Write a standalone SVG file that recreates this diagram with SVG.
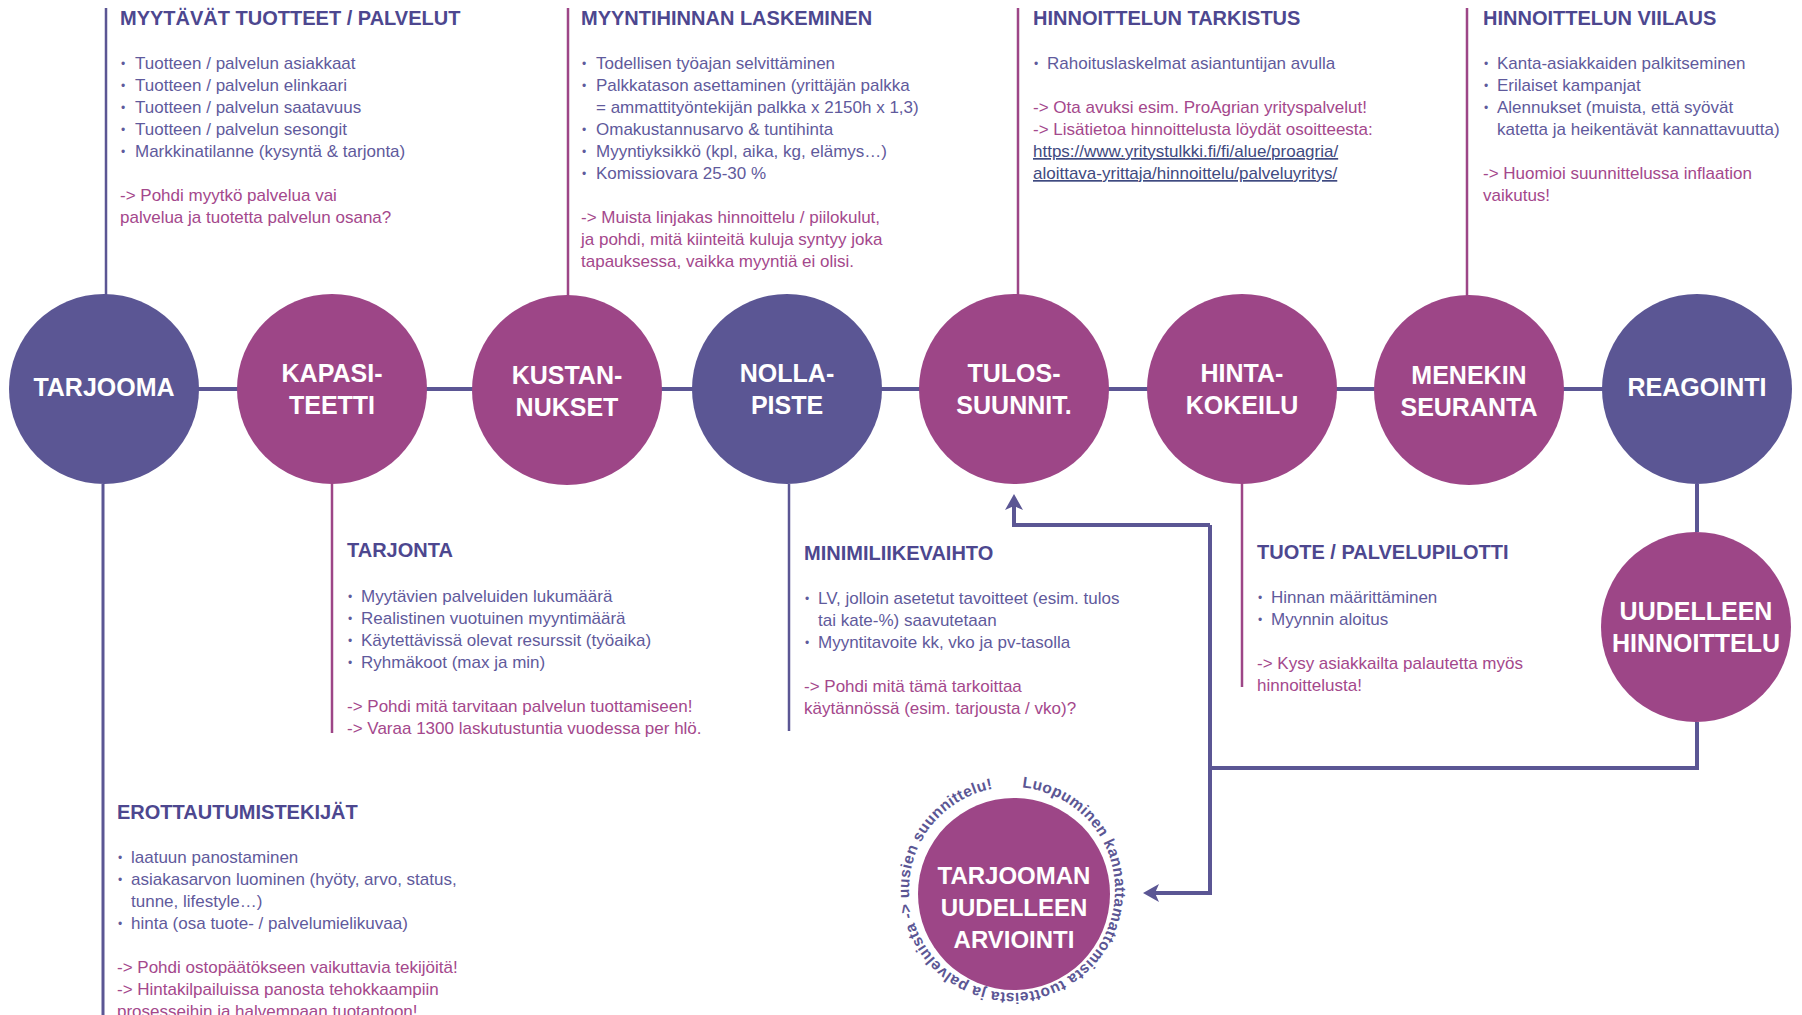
<svg xmlns="http://www.w3.org/2000/svg" width="1802" height="1015" viewBox="0 0 1802 1015">
  <defs>
    <style>
      .h { font: bold 20px 'Liberation Sans', Arial, sans-serif; fill: #4d478f; }
      .b { font: 17px 'Liberation Sans', Arial, sans-serif; fill: #5f5a9c; }
      .p { font: 17px 'Liberation Sans', Arial, sans-serif; fill: #a4488c; }
      .lk { font: 17px 'Liberation Sans', Arial, sans-serif; fill: #3f4a80; text-decoration: underline; }
      .dot { font: 12px 'Liberation Sans', Arial, sans-serif; fill: #5f5a9c; }
      .lbl { font: bold 25px 'Liberation Sans', Arial, sans-serif; fill: #ffffff; text-anchor: middle; }
      .lbl2 { font: bold 24px 'Liberation Sans', Arial, sans-serif; fill: #ffffff; text-anchor: middle; }
      .ring { font: bold 15.5px 'Liberation Sans', Arial, sans-serif; fill: #5b5694; }
      .blue { fill: #5b5694; }
      .mag { fill: #9d4687; }
      .tb { stroke: #5b5694; stroke-width: 2.5; fill: none; }
      .tm { stroke: #9d4687; stroke-width: 2.5; fill: none; }
      .flow { stroke: #5b5694; stroke-width: 4; fill: none; }
    </style>
    <marker id="ah" viewBox="0 0 16 18" refX="6" refY="9" markerWidth="16" markerHeight="18" markerUnits="userSpaceOnUse" orient="auto">
      <path d="M0,0 L16,9 L0,18 L4,9 z" fill="#5b5694"/>
    </marker>
    <path id="ringPath" d="M1012,787 A103,103 0 1,1 1012,993 A103,103 0 1,1 1012,787"/>
  </defs>

  <rect width="1802" height="1015" fill="#ffffff"/>

  <!-- connectors -->
  <g id="connectors">
    <path class="tb" d="M106,8 V295"/>
    <path class="tm" d="M568,8 V296"/>
    <path class="tm" d="M1018,8 V296"/>
    <path class="tm" d="M1467,8 V296"/>
    <path class="tb" d="M103,484 V1015" style="stroke-width:3"/>
    <path class="tm" d="M332,484 V733"/>
    <path class="tb" d="M789,484 V731"/>
    <path class="tm" d="M1242,484 V687"/>
    <path class="flow" d="M104,389 H1697"/>
    <path class="flow" d="M1697,484 V532"/>
    <path class="flow" d="M1697,722 V768 H1210"/>
    <path class="flow" d="M1210,525 V893 H1153" marker-end="url(#ah)"/>
    <path class="flow" d="M1210,525 H1014 V504" marker-end="url(#ah)"/>
  </g>

  <!-- process nodes -->
  <g id="n-tarjooma">
    <circle class="blue" cx="104" cy="389" r="95"/>
    <text class="lbl" x="104" y="396">TARJOOMA</text>
  </g>
  <g id="n-kapasiteetti">
    <circle class="mag" cx="332" cy="389" r="95"/>
    <text class="lbl" x="332" y="382">KAPASI-</text>
    <text class="lbl" x="332" y="414">TEETTI</text>
  </g>
  <g id="n-kustannukset">
    <circle class="mag" cx="567" cy="390" r="95"/>
    <text class="lbl" x="567" y="384">KUSTAN-</text>
    <text class="lbl" x="567" y="416">NUKSET</text>
  </g>
  <g id="n-nollapiste">
    <circle class="blue" cx="787" cy="389" r="95"/>
    <text class="lbl" x="787" y="382">NOLLA-</text>
    <text class="lbl" x="787" y="414">PISTE</text>
  </g>
  <g id="n-tulossuunnittelu">
    <circle class="mag" cx="1014" cy="389" r="95"/>
    <text class="lbl" x="1014" y="382">TULOS-</text>
    <text class="lbl" x="1014" y="414">SUUNNIT.</text>
  </g>
  <g id="n-hintakokeilu">
    <circle class="mag" cx="1242" cy="389" r="95"/>
    <text class="lbl" x="1242" y="382">HINTA-</text>
    <text class="lbl" x="1242" y="414">KOKEILU</text>
  </g>
  <g id="n-menekinseuranta">
    <circle class="mag" cx="1469" cy="390" r="95"/>
    <text class="lbl" x="1469" y="384">MENEKIN</text>
    <text class="lbl" x="1469" y="416">SEURANTA</text>
  </g>
  <g id="n-reagointi">
    <circle class="blue" cx="1697" cy="389" r="95"/>
    <text class="lbl" x="1697" y="396">REAGOINTI</text>
  </g>
  <g id="n-uudelleenhinnoittelu">
    <circle class="mag" cx="1696" cy="627" r="95"/>
    <text class="lbl" x="1696" y="620">UUDELLEEN</text>
    <text class="lbl" x="1696" y="652">HINNOITTELU</text>
  </g>
  <g id="n-tarjoomanarviointi">
    <circle class="mag" cx="1014" cy="894" r="96"/>
    <text class="lbl2" x="1014" y="884">TARJOOMAN</text>
    <text class="lbl2" x="1014" y="916">UUDELLEEN</text>
    <text class="lbl2" x="1014" y="948">ARVIOINTI</text>
    <text class="ring" textLength="617" lengthAdjust="spacing"><textPath href="#ringPath" startOffset="10">Luopuminen kannattamattomista tuotteista ja palveluista -&gt; uusien suunnittelu!</textPath></text>
  </g>

  <!-- note: products / services -->
  <g id="t-myytavat">
    <text class="h" x="120" y="25">MYYTÄVÄT TUOTTEET / PALVELUT</text>
    <text class="dot" x="121" y="67.5">•</text><text class="b" x="135" y="69">Tuotteen / palvelun asiakkaat</text>
    <text class="dot" x="121" y="89.5">•</text><text class="b" x="135" y="91">Tuotteen / palvelun elinkaari</text>
    <text class="dot" x="121" y="111.5">•</text><text class="b" x="135" y="113">Tuotteen / palvelun saatavuus</text>
    <text class="dot" x="121" y="133.5">•</text><text class="b" x="135" y="135">Tuotteen / palvelun sesongit</text>
    <text class="dot" x="121" y="155.5">•</text><text class="b" x="135" y="157">Markkinatilanne (kysyntä &amp; tarjonta)</text>
    <text class="p" x="120" y="201">-&gt; Pohdi myytkö palvelua vai</text>
    <text class="p" x="120" y="223">palvelua ja tuotetta palvelun osana?</text>
  </g>

  <!-- note: sales price -->
  <g id="t-myyntihinta">
    <text class="h" x="581" y="25">MYYNTIHINNAN LASKEMINEN</text>
    <text class="dot" x="582" y="67.5">•</text><text class="b" x="596" y="69">Todellisen työajan selvittäminen</text>
    <text class="dot" x="582" y="89.5">•</text><text class="b" x="596" y="91">Palkkatason asettaminen (yrittäjän palkka</text>
    <text class="b" x="596" y="113">= ammattityöntekijän palkka x 2150h x 1,3)</text>
    <text class="dot" x="582" y="133.5">•</text><text class="b" x="596" y="135">Omakustannusarvo &amp; tuntihinta</text>
    <text class="dot" x="582" y="155.5">•</text><text class="b" x="596" y="157">Myyntiyksikkö (kpl, aika, kg, elämys…)</text>
    <text class="dot" x="582" y="177.5">•</text><text class="b" x="596" y="179">Komissiovara 25-30 %</text>
    <text class="p" x="581" y="223">-&gt; Muista linjakas hinnoittelu / piilokulut,</text>
    <text class="p" x="581" y="245">ja pohdi, mitä kiinteitä kuluja syntyy joka</text>
    <text class="p" x="581" y="267">tapauksessa, vaikka myyntiä ei olisi.</text>
  </g>

  <!-- note: pricing check -->
  <g id="t-tarkistus">
    <text class="h" x="1033" y="25">HINNOITTELUN TARKISTUS</text>
    <text class="dot" x="1034" y="67.5">•</text><text class="b" x="1047" y="69">Rahoituslaskelmat asiantuntijan avulla</text>
    <text class="p" x="1033" y="113">-&gt; Ota avuksi esim. ProAgrian yrityspalvelut!</text>
    <text class="p" x="1033" y="135">-&gt; Lisätietoa hinnoittelusta löydät osoitteesta:</text>
    <text class="lk" x="1033" y="157">https://www.yritystulkki.fi/fi/alue/proagria/</text>
    <text class="lk" x="1033" y="179">aloittava-yrittaja/hinnoittelu/palveluyritys/</text>
  </g>

  <!-- note: fine tuning -->
  <g id="t-viilaus">
    <text class="h" x="1483" y="25">HINNOITTELUN VIILAUS</text>
    <text class="dot" x="1484" y="67.5">•</text><text class="b" x="1497" y="69">Kanta-asiakkaiden palkitseminen</text>
    <text class="dot" x="1484" y="89.5">•</text><text class="b" x="1497" y="91">Erilaiset kampanjat</text>
    <text class="dot" x="1484" y="111.5">•</text><text class="b" x="1497" y="113">Alennukset (muista, että syövät</text>
    <text class="b" x="1497" y="135">katetta ja heikentävät kannattavuutta)</text>
    <text class="p" x="1483" y="179">-&gt; Huomioi suunnittelussa inflaation</text>
    <text class="p" x="1483" y="201">vaikutus!</text>
  </g>

  <!-- note: supply -->
  <g id="t-tarjonta">
    <text class="h" x="347" y="557">TARJONTA</text>
    <text class="dot" x="348" y="600.5">•</text><text class="b" x="361" y="602">Myytävien palveluiden lukumäärä</text>
    <text class="dot" x="348" y="622.5">•</text><text class="b" x="361" y="624">Realistinen vuotuinen myyntimäärä</text>
    <text class="dot" x="348" y="644.5">•</text><text class="b" x="361" y="646">Käytettävissä olevat resurssit (työaika)</text>
    <text class="dot" x="348" y="666.5">•</text><text class="b" x="361" y="668">Ryhmäkoot (max ja min)</text>
    <text class="p" x="347" y="712">-&gt; Pohdi mitä tarvitaan palvelun tuottamiseen!</text>
    <text class="p" x="347" y="734">-&gt; Varaa 1300 laskutustuntia vuodessa per hlö.</text>
  </g>

  <!-- note: minimum turnover -->
  <g id="t-minimiliikevaihto">
    <text class="h" x="804" y="560">MINIMILIIKEVAIHTO</text>
    <text class="dot" x="805" y="602.5">•</text><text class="b" x="818" y="604">LV, jolloin asetetut tavoitteet (esim. tulos</text>
    <text class="b" x="818" y="626">tai kate-%) saavutetaan</text>
    <text class="dot" x="805" y="646.5">•</text><text class="b" x="818" y="648">Myyntitavoite kk, vko ja pv-tasolla</text>
    <text class="p" x="804" y="692">-&gt; Pohdi mitä tämä tarkoittaa</text>
    <text class="p" x="804" y="714">käytännössä (esim. tarjousta / vko)?</text>
  </g>

  <!-- note: pilot -->
  <g id="t-pilotti">
    <text class="h" x="1257" y="559">TUOTE / PALVELUPILOTTI</text>
    <text class="dot" x="1258" y="601.5">•</text><text class="b" x="1271" y="603">Hinnan määrittäminen</text>
    <text class="dot" x="1258" y="623.5">•</text><text class="b" x="1271" y="625">Myynnin aloitus</text>
    <text class="p" x="1257" y="669">-&gt; Kysy asiakkailta palautetta myös</text>
    <text class="p" x="1257" y="691">hinnoittelusta!</text>
  </g>

  <!-- note: differentiation -->
  <g id="t-erottautuminen">
    <text class="h" x="117" y="819">EROTTAUTUMISTEKIJÄT</text>
    <text class="dot" x="118" y="861.5">•</text><text class="b" x="131" y="863">laatuun panostaminen</text>
    <text class="dot" x="118" y="883.5">•</text><text class="b" x="131" y="885">asiakasarvon luominen (hyöty, arvo, status,</text>
    <text class="b" x="131" y="907">tunne, lifestyle…)</text>
    <text class="dot" x="118" y="927.5">•</text><text class="b" x="131" y="929">hinta (osa tuote- / palvelumielikuvaa)</text>
    <text class="p" x="117" y="973">-&gt; Pohdi ostopäätökseen vaikuttavia tekijöitä!</text>
    <text class="p" x="117" y="995">-&gt; Hintakilpailuissa panosta tehokkaampiin</text>
    <text class="p" x="117" y="1017">prosesseihin ja halvempaan tuotantoon!</text>
  </g>
</svg>
